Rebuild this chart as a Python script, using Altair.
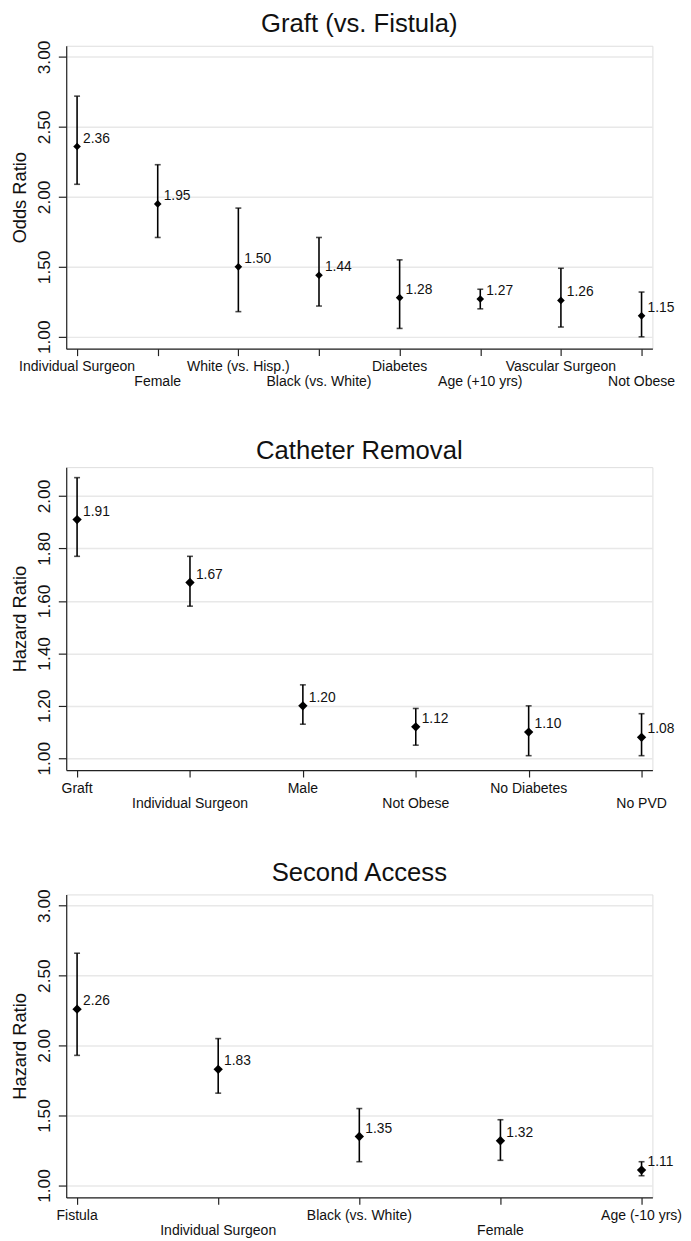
import altair as alt
import pandas as pd

# ---- data ----
graft_labels = ["Individual Surgeon", "Female", "White (vs. Hisp.)", "Black (vs. White)",
                "Diabetes", "Age (+10 yrs)", "Vascular Surgeon", "Not Obese"]
graft_or = [2.36, 1.95, 1.50, 1.44, 1.28, 1.27, 1.26, 1.15]
graft_lo = [2.09, 1.71, 1.18, 1.22, 1.06, 1.20, 1.07, 1.00]
graft_hi = [2.72, 2.23, 1.92, 1.71, 1.55, 1.34, 1.49, 1.32]

cath_labels = ["Graft", "Individual Surgeon", "Male", "Not Obese", "No Diabetes", "No PVD"]
cath_hr = [1.91, 1.67, 1.20, 1.12, 1.10, 1.08]
cath_lo = [1.77, 1.58, 1.13, 1.05, 1.01, 1.01]
cath_hi = [2.07, 1.77, 1.28, 1.19, 1.20, 1.17]

second_labels = ["Fistula", "Individual Surgeon", "Black (vs. White)", "Female", "Age (-10 yrs)"]
second_hr = [2.26, 1.83, 1.35, 1.32, 1.11]
second_lo = [1.93, 1.66, 1.17, 1.18, 1.07]
second_hi = [2.66, 2.05, 1.55, 1.47, 1.17]

FONT = "Liberation Sans"
W, H = 594, 307
EDGE_PX = 11  # gap between axis end and first/last category


def panel(title, ytitle, labels, est, lo, hi, ydom, yticks, msize):
    n = len(labels)
    step = (W - 2 * EDGE_PX) / (n - 1)
    p = EDGE_PX / step
    df = pd.DataFrame({"i": list(range(n)), "label": labels, "est": est,
                       "lo": lo, "hi": hi, "row": [k % 2 for k in range(n)]})
    xs = alt.Scale(domain=[-p, n - 1 + p], nice=False, zero=False)
    xax = alt.Axis(values=list(range(n)), labels=False, grid=False, title=None,
                   tickSize=7, tickColor="#222", domainColor="#222",
                   tickWidth=1.2, domainWidth=1.2)
    ys = alt.Scale(domain=ydom, nice=False, zero=False)
    yax = alt.Axis(values=yticks, format=".2f", labelAngle=270, labelAlign="center",
                   labelBaseline="bottom", labelFontSize=17.5, labelFont=FONT,
                   labelColor="#111", labelPadding=5,
                   title=ytitle, titleFontSize=18.5, titleFont=FONT,
                   titleFontWeight="normal", titleColor="#111", titlePadding=6,
                   grid=True, gridColor="#e8e8e8", gridWidth=1.5,
                   tickSize=8, tickColor="#222", domainColor="#222",
                   tickWidth=1.2, domainWidth=1.2)
    X = alt.X("i:Q", scale=xs, axis=xax)
    base = alt.Chart(df)
    rule = base.mark_rule(color="black", strokeWidth=1.6).encode(
        x=X, y=alt.Y("lo:Q", scale=ys, axis=yax), y2="hi:Q")
    cap_lo = base.mark_tick(color="black", orient="horizontal", size=6, thickness=1.6).encode(
        x=X, y=alt.Y("lo:Q", scale=ys, axis=yax))
    cap_hi = base.mark_tick(color="black", orient="horizontal", size=6, thickness=1.6).encode(
        x=X, y=alt.Y("hi:Q", scale=ys, axis=yax))
    pts = base.mark_point(shape="diamond", filled=True, color="black", size=msize,
                          opacity=1).encode(x=X, y=alt.Y("est:Q", scale=ys, axis=yax))
    vals = base.mark_text(align="left", baseline="middle", dx=6, dy=-8, font=FONT,
                          fontSize=14, color="#111").encode(
        x=X, y=alt.Y("est:Q", scale=ys, axis=yax), text=alt.Text("est:Q", format=".2f"))
    lab0 = base.transform_filter("datum.row == 0").mark_text(
        align="center", baseline="middle", font=FONT, fontSize=14.2, color="#111").encode(
        x=X, y=alt.value(H + 19), text="label:N")
    lab1 = base.transform_filter("datum.row == 1").mark_text(
        align="center", baseline="middle", font=FONT, fontSize=14.2, color="#111").encode(
        x=X, y=alt.value(H + 34), text="label:N")
    return alt.layer(rule, cap_lo, cap_hi, pts, vals, lab0, lab1).properties(
        width=W, height=H,
        title=alt.TitleParams(title, fontSize=26, font=FONT, fontWeight="normal",
                              color="#111", anchor="middle", frame="group", offset=3))


p1 = panel("Graft (vs. Fistula)", "Odds Ratio", graft_labels, graft_or, graft_lo, graft_hi,
           [0.915, 3.08], [1.0, 1.5, 2.0, 2.5, 3.0], 60)
p2 = panel("Catheter Removal", "Hazard Ratio", cath_labels, cath_hr, cath_lo, cath_hi,
           [0.955, 2.11], [1.0, 1.2, 1.4, 1.6, 1.8, 2.0], 90)
p3 = panel("Second Access", "Hazard Ratio", second_labels, second_hr, second_lo, second_hi,
           [0.915, 3.08], [1.0, 1.5, 2.0, 2.5, 3.0], 90)

chart = alt.vconcat(p1, p2, p3, spacing=48).properties(
    padding={"left": 2, "top": -6, "right": 0, "bottom": 0}
).configure_view(strokeWidth=0).configure(background="white")

chart.save("out.html", embed_options={"renderer": "svg", "actions": False})
